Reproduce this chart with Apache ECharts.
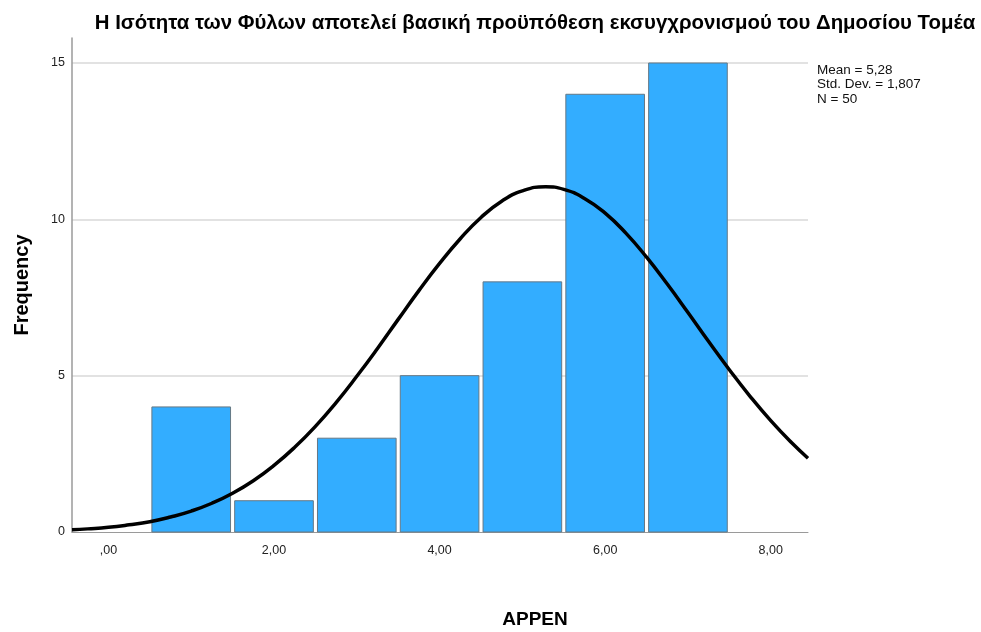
<!DOCTYPE html>
<html>
<head>
<meta charset="utf-8">
<script src="https://cdn.jsdelivr.net/npm/echarts@6/dist/echarts.min.js"></script>
<style>
  html, body { margin: 0; padding: 0; background: #fff; }
  #main { width: 981px; height: 632px; }
</style>
</head>
<body>
<div id="main"></div>
<script>
// histogram bins (midpoints) and counts
var binMid = [1, 2, 3, 4, 5, 6, 7];
var counts = [4, 1, 3, 5, 8, 14, 15];

// normal curve
var curveX = [-0.44, -0.25, 0, 0.25, 0.5, 0.75, 1, 1.25, 1.5, 1.75, 2, 2.25, 2.5, 2.75, 3, 3.25, 3.5, 3.75, 4, 4.25, 4.5, 4.75, 5, 5.28, 5.5, 5.75, 6, 6.25, 6.5, 6.75, 7, 7.25, 7.5, 7.75, 8, 8.25, 8.45];
var curveY = [0.07, 0.10, 0.15, 0.23, 0.33, 0.48, 0.67, 0.92, 1.24, 1.64, 2.13, 2.71, 3.38, 4.14, 4.98, 5.87, 6.80, 7.72, 8.59, 9.38, 10.06, 10.58, 10.91, 11.04, 10.96, 10.67, 10.20, 9.56, 8.79, 7.93, 7.02, 6.09, 5.19, 4.34, 3.56, 2.86, 2.36];

var xTicks = [0, 2, 4, 6, 8];
var yTicks = [0, 5, 10, 15];
var statsLines = ['Mean = 5,28', 'Std. Dev. = 1,807', 'N = 50'];

var chart = echarts.init(document.getElementById('main'));

var barData = binMid.map(function (x, i) { return [x, counts[i]]; });
var curveData = curveX.map(function (x, i) { return [x, curveY[i]]; });

var option = {
  animation: false,
  title: {
    text: 'Η Ισότητα των Φύλων αποτελεί βασική προϋπόθεση εκσυγχρονισμού του Δημοσίου Τομέα',
    left: 530,
    top: 8,
    textAlign: 'center',
    textStyle: { fontFamily: 'Liberation Sans, Arial', fontSize: 20.4, fontWeight: 'bold', color: '#000' }
  },
  grid: { left: 72, right: 173, top: 38, bottom: 100 },
  xAxis: {
    type: 'value',
    min: -0.44,
    max: 8.45,
    axisLine: { show: true, onZero: false, lineStyle: { color: '#9a9a9a', width: 1 } },
    axisTick: { show: false },
    splitLine: { show: false },
    axisLabel: {
      customValues: xTicks,
      margin: 12,
      fontFamily: 'Liberation Sans, Arial',
      fontSize: 12.5,
      color: '#222',
      formatter: function (v) { return v === 0 ? ',00' : v + ',00'; }
    }
  },
  yAxis: {
    type: 'value',
    min: 0,
    max: 15.8,
    interval: 5,
    axisLine: { show: true, onZero: false, lineStyle: { color: '#9a9a9a', width: 1.5 } },
    axisTick: { show: false },
    splitLine: { show: true, showMinLine: false, showMaxLine: false, lineStyle: { color: '#d9d9d9', width: 1.5 } },
    axisLabel: {
      customValues: yTicks,
      margin: 7,
      fontFamily: 'Liberation Sans, Arial',
      fontSize: 12.5,
      color: '#222'
    }
  },
  graphic: [
    {
      type: 'text', left: 817, top: 63,
      style: { text: statsLines.join('\n'), font: '13.5px "Liberation Sans", Arial', fill: '#111', lineHeight: 14.5 }
    },
    {
      type: 'text', x: 22, y: 285, rotation: Math.PI / 2,
      style: { text: 'Frequency', font: 'bold 20px "Liberation Sans", Arial', fill: '#000', textAlign: 'center', textVerticalAlign: 'middle' }
    },
    {
      type: 'text', x: 535, y: 620,
      style: { text: 'APPEN', font: 'bold 19px "Liberation Sans", Arial', fill: '#000', textAlign: 'center', textVerticalAlign: 'middle' }
    }
  ],
  series: [
    {
      type: 'custom',
      data: barData,
      renderItem: function (params, api) {
        var x = api.value(0);
        var y = api.value(1);
        var p0 = api.coord([x - 0.475, y]);
        var p1 = api.coord([x + 0.475, 0]);
        return {
          type: 'rect',
          shape: { x: p0[0], y: p0[1], width: p1[0] - p0[0], height: p1[1] - p0[1] },
          style: { fill: '#33adff', stroke: '#667885', lineWidth: 1 }
        };
      },
      z: 2
    },
    {
      type: 'line',
      data: curveData,
      smooth: true,
      showSymbol: false,
      lineStyle: { color: '#000', width: 3.5 },
      z: 3
    }
  ]
};

chart.setOption(option);
</script>
</body>
</html>
